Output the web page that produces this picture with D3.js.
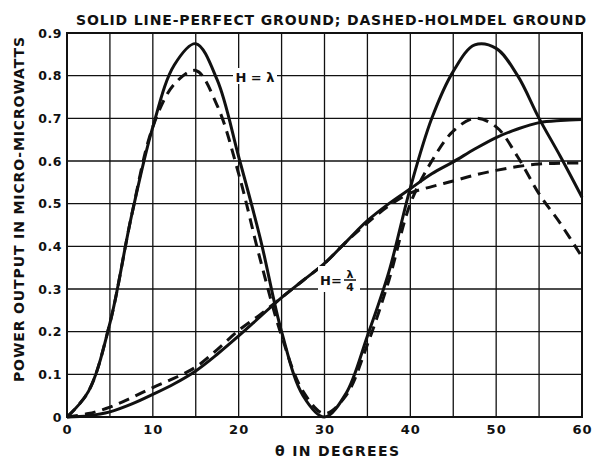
<!DOCTYPE html>
<html>
<head>
<meta charset="utf-8">
<script src="https://cdn.jsdelivr.net/npm/d3@7"></script>
<style>
  body { margin: 0; background: #fff; }
  text { font-family: "DejaVu Sans", sans-serif; font-weight: bold; fill: #111; }
</style>
</head>
<body>
<svg id="chart"></svg>
<script>
// data
var degrees = [0, 2.5, 5, 7.5, 10, 12.5, 15, 17.5, 20, 22.5, 25, 27.5, 30, 32.5, 35, 37.5, 40, 42.5, 45, 47.5, 50, 52.5, 55, 57.5, 60];
var perfectLambda   = [0, 0.06, 0.22, 0.47, 0.68, 0.825, 0.875, 0.79, 0.61, 0.42, 0.2, 0.05, 0, 0.055, 0.19, 0.34, 0.537, 0.7, 0.81, 0.872, 0.864, 0.8, 0.7, 0.61, 0.515];
var holmdelLambda   = [0, 0.06, 0.22, 0.47, 0.68, 0.78, 0.812, 0.73, 0.57, 0.37, 0.19, 0.06, 0.008, 0.05, 0.17, 0.32, 0.5, 0.6, 0.67, 0.7, 0.68, 0.61, 0.523, 0.453, 0.375];
var perfectQuarter  = [0, 0.003, 0.012, 0.03, 0.053, 0.078, 0.108, 0.147, 0.19, 0.235, 0.28, 0.32, 0.36, 0.41, 0.46, 0.5, 0.535, 0.57, 0.598, 0.628, 0.655, 0.675, 0.69, 0.695, 0.697];
var holmdelQuarter  = [0, 0.008, 0.023, 0.045, 0.069, 0.091, 0.117, 0.158, 0.203, 0.24, 0.28, 0.32, 0.36, 0.41, 0.455, 0.495, 0.525, 0.54, 0.553, 0.567, 0.578, 0.587, 0.593, 0.595, 0.595];

var xTicks = [0, 10, 20, 30, 40, 50, 60];
var yTicks = [0, 0.1, 0.2, 0.3, 0.4, 0.5, 0.6, 0.7, 0.8, 0.9];
var xGrid = d3.range(0, 61, 5);

const width = 592;
const height = 462;

var svg = d3.select("#chart")
            .attr("width", width)
            .attr("height", height);

var x = d3.scaleLinear().domain([0, 60]).range([67, 582]);
var y = d3.scaleLinear().domain([0, 0.9]).range([417, 33]);

// grid
svg.append("g")
    .selectAll("line")
    .data(xGrid)
    .enter().append("line")
    .attr("x1", function(d) {return x(d);})
    .attr("x2", function(d) {return x(d);})
    .attr("y1", y(0))
    .attr("y2", y(0.9))
    .attr("stroke", "#111")
    .attr("stroke-width", 1.3);

svg.append("g")
    .selectAll("line")
    .data(yTicks)
    .enter().append("line")
    .attr("x1", x(0))
    .attr("x2", x(60))
    .attr("y1", function(d) {return y(d);})
    .attr("y2", function(d) {return y(d);})
    .attr("stroke", "#111")
    .attr("stroke-width", 1.3);

// frame
svg.append("rect")
    .attr("x", x(0))
    .attr("y", y(0.9))
    .attr("width", x(60) - x(0))
    .attr("height", y(0) - y(0.9))
    .attr("fill", "none")
    .attr("stroke", "#111")
    .attr("stroke-width", 2);

// tick labels
var xAxis = d3.axisBottom(x).tickValues(xTicks).tickSize(0).tickPadding(8);
svg.append("g")
    .attr("transform", "translate(0," + y(0) + ")")
    .call(xAxis)
    .call(function(g) {g.select(".domain").remove();})
    .selectAll("text")
    .attr("font-size", 13)
    .attr("letter-spacing", 1)
    .style("font-family", "DejaVu Sans, sans-serif")
    .style("font-weight", "bold");

var yAxis = d3.axisLeft(y).tickValues(yTicks).tickSize(0).tickPadding(5)
                .tickFormat(function(d) {return d === 0 ? "0" : d3.format(".1f")(d);});
svg.append("g")
    .attr("transform", "translate(" + x(0) + ",0)")
    .call(yAxis)
    .call(function(g) {g.select(".domain").remove();})
    .selectAll("text")
    .attr("font-size", 12.5)
    .attr("letter-spacing", 0.5)
    .style("font-family", "DejaVu Sans, sans-serif")
    .style("font-weight", "bold");

// curves
var line = d3.line()
            .x(function(d) {return x(d[0]);})
            .y(function(d) {return y(d[1]);})
            .curve(d3.curveCatmullRom.alpha(0.5));

var series = [
    {values: perfectLambda, dash: null},
    {values: holmdelLambda, dash: "11,7"},
    {values: perfectQuarter, dash: null},
    {values: holmdelQuarter, dash: "11,7"}
];

svg.selectAll("path.curve")
    .data(series)
    .enter().append("path")
    .attr("class", "curve")
    .attr("d", function(s) {return line(degrees.map(function(d, i) {return [d, s.values[i]];}));})
    .attr("fill", "none")
    .attr("stroke", "#111")
    .attr("stroke-width", 3)
    .attr("stroke-dasharray", function(s) {return s.dash;});

// titles
svg.append("text")
    .attr("x", 76)
    .attr("y", 25)
    .attr("font-size", 14)
    .attr("textLength", 510)
    .attr("lengthAdjust", "spacing")
    .text("SOLID LINE-PERFECT GROUND;  DASHED-HOLMDEL GROUND");

svg.append("text")
    .attr("x", 275)
    .attr("y", 456)
    .attr("font-size", 14)
    .attr("textLength", 124)
    .attr("lengthAdjust", "spacing")
    .text("θ IN DEGREES");

svg.append("text")
    .attr("transform", "translate(24,382) rotate(-90)")
    .attr("font-size", 14)
    .attr("textLength", 345)
    .attr("lengthAdjust", "spacing")
    .text("POWER OUTPUT  IN MICRO-MICROWATTS");

// curve labels
svg.append("rect")
    .attr("x", 233).attr("y", 68).attr("width", 44).attr("height", 16)
    .attr("fill", "#fff");
svg.append("text")
    .attr("x", 255)
    .attr("y", 82)
    .attr("text-anchor", "middle")
    .attr("font-size", 13)
    .text("H = λ");

svg.append("rect")
    .attr("x", 318).attr("y", 266).attr("width", 42).attr("height", 26)
    .attr("fill", "#fff");
svg.append("text")
    .attr("x", 320)
    .attr("y", 285)
    .attr("font-size", 13)
    .text("H=");
svg.append("text")
    .attr("x", 350)
    .attr("y", 278)
    .attr("text-anchor", "middle")
    .attr("font-size", 11)
    .text("λ");
svg.append("line")
    .attr("x1", 344).attr("x2", 356)
    .attr("y1", 280).attr("y2", 280)
    .attr("stroke", "#111").attr("stroke-width", 1.5);
svg.append("text")
    .attr("x", 350)
    .attr("y", 291)
    .attr("text-anchor", "middle")
    .attr("font-size", 11)
    .text("4");
</script>
</body>
</html>
